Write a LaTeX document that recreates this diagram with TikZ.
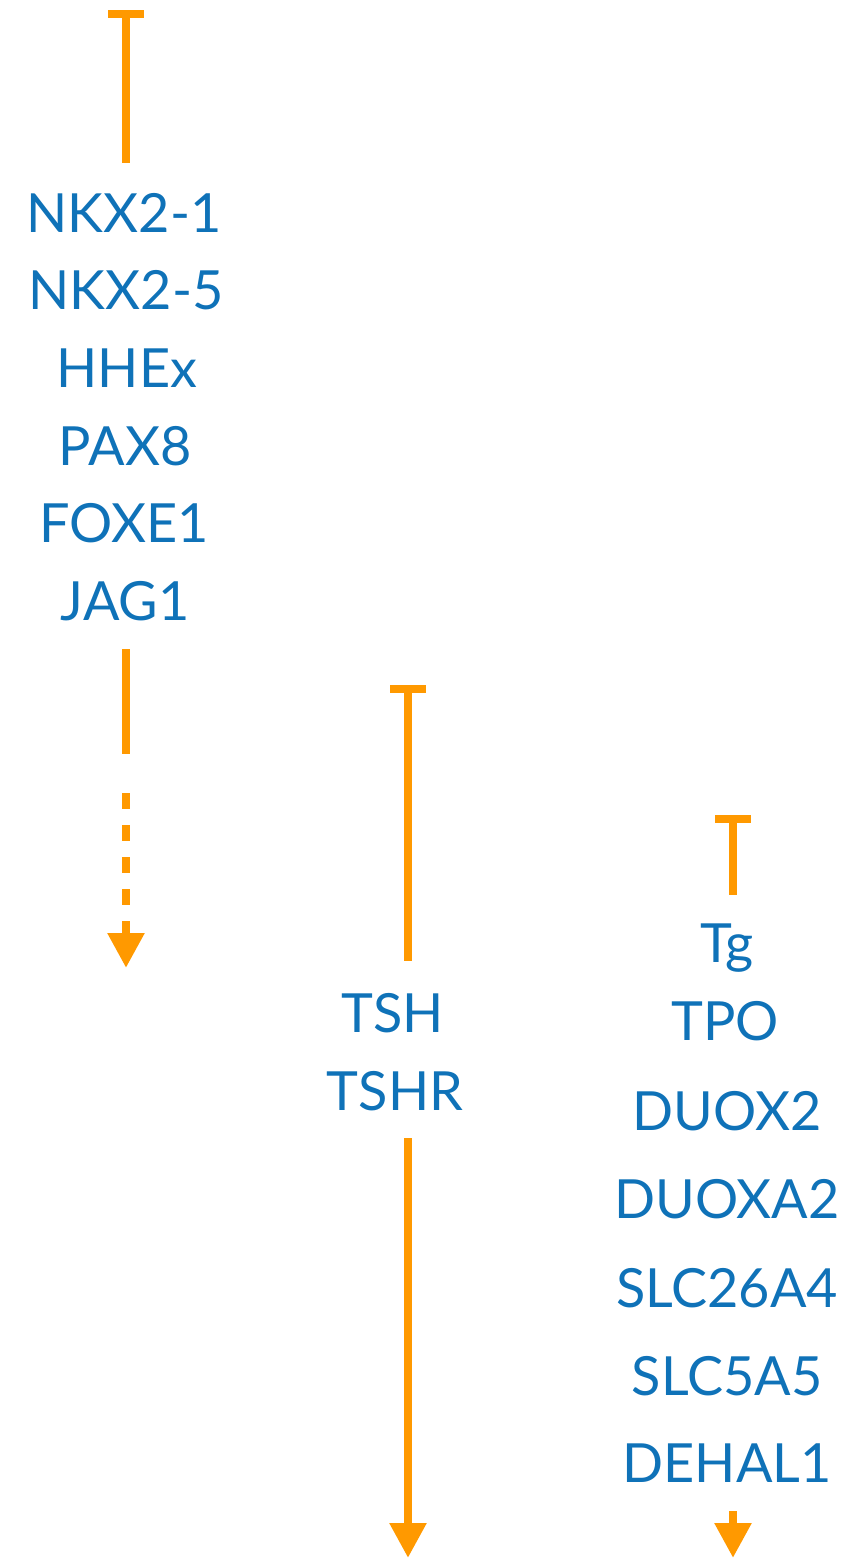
\documentclass[tikz,border=0pt]{standalone}
\usepackage{fontspec}
\setmainfont{Lato}
\usetikzlibrary{arrows.meta}
\definecolor{gblue}{HTML}{0F72B8}
\definecolor{gorange}{HTML}{FF9900}
\tikzset{
  gene/.style={anchor=base, text=gblue, font=\fontsize{54}{60}\selectfont, inner sep=0pt},
  conn/.style={draw=gorange, line width=8.5pt},
  inhib/.style={conn, {Bar[width=36pt,line width=8pt]}-},
  act/.style={conn, -{Triangle[width=35pt,length=35pt]}},
}
\begin{document}
\begin{tikzpicture}[x=1pt,y=-1pt]
\useasboundingbox (0,0) rectangle (866,1558);
% left column
\coordinate (l0) at (126,10);
\coordinate (l1) at (126,163);
\node[gene] (nkx21) at (124,232) {NKX2-1};
\node[gene] (nkx25) at (126,309.5) {NKX2-5};
\node[gene] (hhex) at (127,387) {HHEx};
\node[gene] (pax8) at (125,465) {PAX8};
\node[gene] (foxe1) at (124,542) {FOXE1};
\node[gene] (jag1) at (125,620) {JAG1};
\coordinate (l2) at (126,649);
\coordinate (l3) at (126,754);
\coordinate (l4) at (126,793);
\coordinate (l5) at (126,968);
\draw[inhib] (l0) -- (l1);
\draw[conn] (l2) -- (l3);
\draw[act, dash pattern=on 16pt off 16pt] (l4) -- (l5);
% middle column
\coordinate (m0) at (408,685);
\coordinate (m1) at (408,961);
\node[gene] (tsh) at (393,1032) {TSH};
\node[gene] (tshr) at (395,1110) {TSHR};
\coordinate (m2) at (408,1138);
\coordinate (m3) at (408,1558);
\draw[inhib] (m0) -- (m1);
\draw[act] (m2) -- (m3);
% right column
\coordinate (r0) at (733,815);
\coordinate (r1) at (733,895);
\node[gene] (tg) at (727,962) {Tg};
\node[gene] (tpo) at (725,1040) {TPO};
\node[gene] (duox2) at (727,1130) {DUOX2};
\node[gene] (duoxa2) at (727,1218) {DUOXA2};
\node[gene] (slc26) at (727,1307) {SLC26A4};
\node[gene] (slc5) at (727,1395) {SLC5A5};
\node[gene] (dehal) at (727,1482) {DEHAL1};
\coordinate (r2) at (733,1511);
\coordinate (r3) at (733,1558);
\draw[inhib] (r0) -- (r1);
\draw[act] (r2) -- (r3);
\end{tikzpicture}
\end{document}
